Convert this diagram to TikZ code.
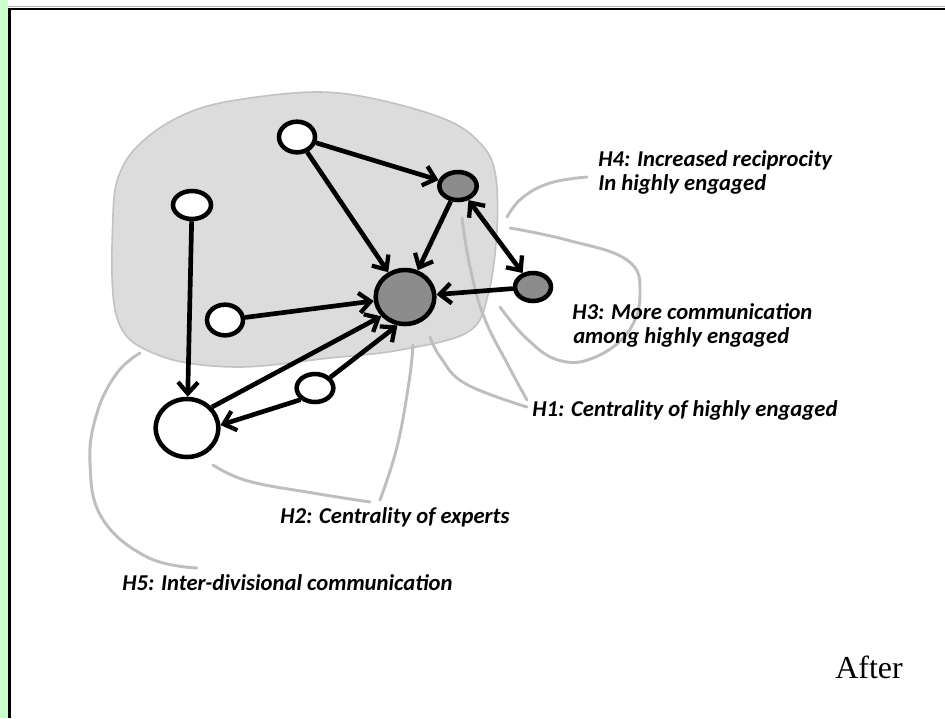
\documentclass[tikz,border=0pt]{standalone}
\usepackage{fontspec}
\setmainfont{Carlito}
\newfontfamily\captionserif{Liberation Serif}
\usetikzlibrary{arrows.meta,shapes.geometric}

\definecolor{regionfill}{HTML}{DCDCDC}
\definecolor{regionline}{HTML}{C2C2C2}
\definecolor{notegray}{HTML}{BEBEBE}
\definecolor{hubgray}{HTML}{8C8C8C}
\definecolor{stripgreen}{HTML}{CCFFCC}

\begin{document}
\begin{tikzpicture}[x=0.75pt,y=-0.75pt,
  actor/.style={ellipse, draw=black, line width=3.4pt, fill=white, inner sep=0pt},
  engaged/.style={actor, fill=hubgray},
  barb/.style={Straight Barb[length=8.5pt,width=15pt,line width=3.2pt]},
  tie/.style={line width=3.5pt, -{Straight Barb[length=8.5pt,width=15pt,line width=3.2pt]}},
  mutual/.style={line width=3.5pt, {Straight Barb[length=8.5pt,width=15pt,line width=3.2pt]}-{Straight Barb[length=8.5pt,width=15pt,line width=3.2pt]}},
  note/.style={font=\bfseries\itshape\fontsize{17}{20}\selectfont, anchor=base west, inner sep=0pt},
  pointer/.style={draw=notegray, line width=2.2pt, line cap=round},
]
\useasboundingbox (0,0) rectangle (945,718);

% frame: green strip and black rules
\fill[stripgreen] (0,0) rectangle (8,718);
\draw[gray!60, line width=1.2pt] (8,6.5) -- (945,6.5);
\draw[black, line width=2pt] (9.5,9) -- (945,9);
\draw[black, line width=2pt] (9.5,8) -- (9.5,718);

% the shaded division
\draw[regionline, fill=regionfill, line width=1.2pt]
  plot[smooth cycle, tension=0.6] coordinates {
    (113,215) (117,318) (158,355) (235,367) (330,358) (400,350)
    (468,332) (488,295) (497,230) (495,172) (480,143) (447,120)
    (380,100) (320,92) (250,98) (195,110) (150,135) (122,168)};

% annotation pointers (drawn under the network)
\coordinate (p4a) at (587,177); \coordinate (p4b) at (507,217);
\draw[pointer] plot[smooth, tension=0.7] coordinates {(p4a) (550,183) (522,198) (p4b)};
\coordinate (p3a) at (510,228); \coordinate (p3b) at (500,307);
\draw[pointer] plot[smooth, tension=0.7] coordinates {(p3a) (567,240) (627,260) (640,293) (628,332) (593,358) (558,360) (526,338) (p3b)};
\coordinate (p1a) at (527,400); \coordinate (p1b) at (462,218);
\draw[pointer] plot[smooth, tension=0.7] coordinates {(p1a) (508,365) (484,317) (470,267) (p1b)};
\coordinate (p1c) at (527,407); \coordinate (p1d) at (430,337);
\draw[pointer] plot[smooth, tension=0.7] coordinates {(p1c) (466,384) (441,358) (p1d)};
\coordinate (p2a) at (380,500); \coordinate (p2b) at (413,345);
\draw[pointer] plot[smooth, tension=0.7] coordinates {(p2a) (397,447) (409,382) (p2b)};
\coordinate (p2c) at (370,502); \coordinate (p2d) at (213,465);
\draw[pointer] plot[smooth, tension=0.7] coordinates {(p2c) (313,493) (248,481) (p2d)};
\coordinate (p5a) at (197,568); \coordinate (p5b) at (140,353);
\draw[pointer] plot[smooth, tension=0.7] coordinates {(p5a) (147,557) (102,518) (90,463) (97,413) (117,373) (p5b)};

% actors
\node[actor, minimum width=27pt, minimum height=23pt] (A) at (297,137) {};
\node[actor, minimum width=28.5pt, minimum height=21pt] (B) at (192,205) {};
\node[actor, minimum width=27pt, minimum height=23pt] (C) at (225,320) {};
\node[actor, minimum width=47pt, minimum height=43.5pt] (D) at (187,428) {};
\node[actor, minimum width=27.5pt, minimum height=21pt] (E) at (315,388) {};
\node[engaged, minimum width=44pt, minimum height=40.5pt] (F) at (405,297) {};
\node[engaged, minimum width=28pt, minimum height=21pt] (G) at (458,186) {};
\node[engaged, minimum width=27pt, minimum height=21pt] (H) at (533,287) {};

% ties
\draw[tie] (A) -- (G);
\draw[tie] (A) -- (F);
\draw[tie] (G) -- (F);
\draw[mutual] (G) -- (H);
\draw[tie] (H) -- (F);
\draw[tie] (C) -- (F);
\draw[tie] (B) -- (D);
\draw[tie] (D.40) -- (F.219);
\draw[tie] (E.35) -- (F.255);
\draw[tie] (E.219) -- (D.5);

% hypothesis labels
\node[note] (h4) at (598,166) {H4: Increased reciprocity};
\node[note] (h4b) at (598,190) {In highly engaged};
\node[note] (h3) at (572,319) {H3: More communication};
\node[note] (h3b) at (573,343) {among highly engaged};
\node[note] (h1) at (532,416) {H1: Centrality of highly engaged};
\node[note] (h2) at (280,523) {H2: Centrality of experts};
\node[note] (h5) at (122,590) {H5: Inter-divisional communication};

\node[anchor=base west, inner sep=0pt, font=\captionserif\fontsize{24}{28}\selectfont] (after) at (835,678) {After};
\end{tikzpicture}
\end{document}
